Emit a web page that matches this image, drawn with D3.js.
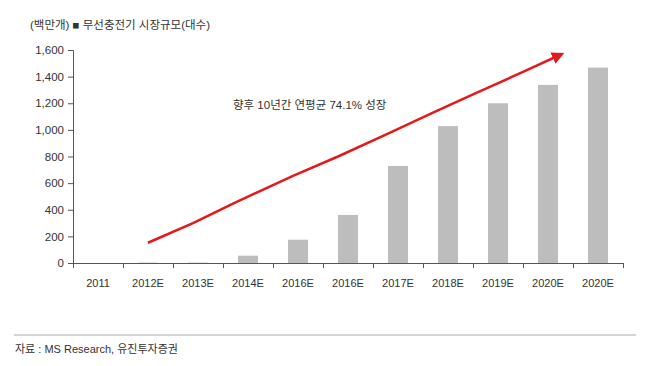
<!DOCTYPE html>
<html>
<head>
<meta charset="utf-8">
<script src="https://cdn.jsdelivr.net/npm/d3@7"></script>
<style>
  body { margin: 0; background: #fff; }
  text { font-family: "Liberation Sans", "Noto Sans CJK KR", sans-serif; fill: #333; }
</style>
</head>
<body>
<script>
// 무선충전기 시장규모 (백만개)
const years = ['2011', '2012E', '2013E', '2014E', '2016E', '2016E', '2017E', '2018E', '2019E', '2020E', '2020E'];
const units = [0, 3, 3, 55, 175, 361, 729, 1028, 1200, 1338, 1468];
const yTicks = [0, 200, 400, 600, 800, 1000, 1200, 1400, 1600];

// 빨간 화살표 (카테고리 위치, 값)
const arrowPos = [1.5, 2.4, 3.2, 4.4, 5.3, 6.3, 7.2, 8.0, 9.0, 9.78];
const arrowVal = [152, 300, 446, 655, 800, 972, 1130, 1266, 1435, 1570];

const width = 646, height = 366;
const margin = {left: 73, right: 23, top: 50, bottom: 103};

const svg = d3.select('body').append('svg')
  .attr('width', width)
  .attr('height', height);

const x = d3.scaleBand()
  .domain(d3.range(years.length))
  .range([margin.left, width - margin.right])
  .paddingInner(0.6)
  .paddingOuter(0.3);

const xPos = d3.scaleLinear()
  .domain([0, years.length])
  .range([margin.left, width - margin.right]);

const y = d3.scaleLinear()
  .domain([0, 1600])
  .range([height - margin.bottom, margin.top]);

// 막대
svg.selectAll('rect.bar')
  .data(units)
  .enter().append('rect')
  .attr('class', 'bar')
  .attr('x', (d, i) => x(i))
  .attr('y', d => y(d))
  .attr('width', x.bandwidth())
  .attr('height', d => y(0) - y(d))
  .attr('fill', '#bdbdbd');

// y축
const yAxis = svg.append('g')
  .attr('transform', `translate(${margin.left},0)`)
  .call(d3.axisLeft(y).tickValues(yTicks).tickSize(5).tickPadding(4).tickFormat(d3.format(',')));
yAxis.selectAll('text').style('font-size', '11.5px').attr('fill', '#333');
yAxis.selectAll('line, path').attr('stroke', '#555');

// x축 (카테고리 경계에 눈금)
const xAxis = svg.append('g')
  .attr('transform', `translate(0,${y(0)})`)
  .call(d3.axisBottom(xPos).tickValues(d3.range(years.length + 1)).tickSize(5).tickFormat(''));
xAxis.selectAll('line, path').attr('stroke', '#555');

svg.append('g').selectAll('text')
  .data(years)
  .enter().append('text')
  .attr('x', (d, i) => xPos(i + 0.5))
  .attr('y', y(0) + 24)
  .attr('text-anchor', 'middle')
  .style('font-size', '11px')
  .text(d => d);

// 화살표
const defs = svg.append('defs');
defs.append('marker')
  .attr('id', 'arrowhead')
  .attr('viewBox', '0 0 10 10')
  .attr('refX', 8).attr('refY', 5)
  .attr('markerWidth', 5).attr('markerHeight', 5)
  .attr('orient', 'auto')
  .append('path')
  .attr('d', 'M0,0 L10,5 L0,10 z')
  .attr('fill', '#e3191c');

const line = d3.line()
  .x((d, i) => xPos(arrowPos[i]))
  .y(d => y(d));

svg.append('path')
  .datum(arrowVal)
  .attr('d', line)
  .attr('fill', 'none')
  .attr('stroke', '#e3191c')
  .attr('stroke-width', 2.5)
  .attr('stroke-linejoin', 'round')
  .attr('marker-end', 'url(#arrowhead)');

svg.append('text')
  .attr('x', 233).attr('y', 109)
  .style('font-size', '11.5px')
  .text('향후 10년간 연평균 74.1% 성장');

// 제목
svg.append('text')
  .attr('x', 30).attr('y', 29)
  .style('font-size', '11.5px')
  .text('(백만개) ■ 무선충전기 시장규모(대수)');

// 출처
svg.append('line')
  .attr('x1', 14).attr('x2', 636)
  .attr('y1', 335).attr('y2', 335)
  .attr('stroke', '#aaa');

svg.append('text')
  .attr('x', 15).attr('y', 353)
  .style('font-size', '11px')
  .text('자료 : MS Research, 유진투자증권');
</script>
</body>
</html>
